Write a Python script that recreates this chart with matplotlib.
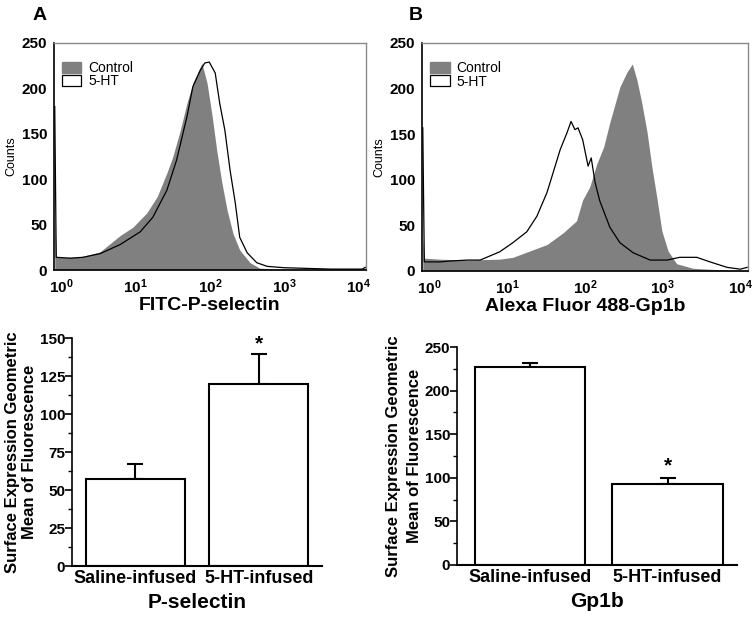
import matplotlib.pyplot as plt
import numpy as np
from matplotlib.patches import Patch

plt.rcParams['font.family'] = ['Liberation Sans', 'DejaVu Sans']
plt.rcParams['mathtext.fontset'] = 'custom'
plt.rcParams['mathtext.rm'] = 'Liberation Sans'
plt.rcParams['mathtext.bf'] = 'Liberation Sans:bold'

# histogram A (log10 of fluorescence, counts)
ctrlA_x = [-0.09, -0.07, 0.12, 0.29, 0.52, 0.79, 0.96, 1.15, 1.29, 1.42, 1.50, 1.60,
           1.69, 1.77, 1.87, 1.89, 1.96, 2.03, 2.09, 2.16, 2.23, 2.31, 2.40, 2.54,
           2.67, 2.85, 3.21, 3.62, 4.05, 4.09]
ctrlA_y = [63, 14, 14, 15, 20, 38, 47, 63, 81, 107, 125, 154,
           184, 206, 224, 228, 206, 169, 132, 96, 66, 40, 22, 8,
           2, 1.5, 1, 1, 1, 3]
htA_x = [-0.09, -0.07, 0.12, 0.29, 0.52, 0.79, 1.06, 1.23, 1.42, 1.55, 1.69, 1.77,
         1.87, 1.93, 1.99, 2.07, 2.13, 2.20, 2.27, 2.34, 2.40, 2.50, 2.63, 2.77,
         3.00, 3.21, 3.62, 4.05, 4.09]
htA_y = [180, 14, 13, 14, 18, 28, 42, 58, 88, 121, 169, 202,
         220, 228, 229, 217, 184, 154, 110, 74, 36, 19, 8, 4,
         2.5, 2, 1, 1, 3]

# histogram B
ctrlB_x = [-0.09, -0.07, 0.13, 0.49, 0.90, 1.07, 1.29, 1.51, 1.72, 1.89, 1.97, 2.06,
           2.15, 2.24, 2.32, 2.45, 2.54, 2.61, 2.67, 2.73, 2.80, 2.86, 2.93, 2.99,
           3.07, 3.18, 3.39, 3.60, 3.87, 4.09]
ctrlB_y = [36, 14, 13, 12, 13, 15, 22, 29, 42, 55, 78, 92,
           117, 136, 163, 202, 218, 227, 209, 185, 152, 115, 78, 44,
           22, 8, 3, 2, 1, 1]
htB_x = [-0.09, -0.07, 0.13, 0.27, 0.49, 0.65, 0.90, 1.07, 1.25, 1.38, 1.51, 1.59,
         1.68, 1.77, 1.82, 1.87, 1.91, 1.97, 2.04, 2.08, 2.13, 2.19, 2.32, 2.45,
         2.62, 2.84, 3.06, 3.22, 3.44, 3.61, 3.83, 4.00, 4.09]
htB_y = [157, 10, 10, 11, 12, 12, 21, 31, 43, 60, 86, 108,
         133, 152, 164, 155, 157, 144, 115, 124, 97, 77, 48, 31,
         20, 12, 12, 15, 15, 10, 4, 2, 4]

groups = ['Saline-infused', '5-HT-infused']
psel_mean = [57, 120]
psel_sem = [10, 19.5]
gp_mean = [227, 93]
gp_sem = [4.5, 7]

fig = plt.figure(figsize=(7.56, 6.18), dpi=100)

decades = [0, 1, 2, 3, 4]
dec_labels = [r'$\mathbf{10^{%d}}$' % d for d in decades]


def histo(rect, cx, cy, hx, hy, xlabel, letter, letter_xy):
    ax = fig.add_axes(rect)
    ax.fill_between(10 ** np.array(cx), cy, color='#808080', lw=0)
    ax.plot(10 ** np.array(hx), hy, color='black', lw=0.9)
    ax.set_xscale('log')
    ax.set_xlim(10 ** -0.1, 10 ** 4.1)
    ax.set_ylim(0, 250)
    ax.set_xticks([10 ** d for d in decades])
    ax.set_xticklabels(dec_labels, fontsize=11)
    ax.minorticks_off()
    ax.set_yticks([0, 50, 100, 150, 200, 250])
    ax.set_yticklabels(['0', '50', '100', '150', '200', '250'], fontsize=11, fontweight='bold')
    ax.tick_params(length=0, pad=5)
    ax.set_xlabel(xlabel, fontsize=14, fontweight='bold', labelpad=1)
    ax.set_ylabel('Counts', fontsize=9, labelpad=3)
    for s in ['top', 'right']:
        ax.spines[s].set_color('#8a8a8a')
        ax.spines[s].set_linewidth(1.0)
    for s in ['left', 'bottom']:
        ax.spines[s].set_color('black')
        ax.spines[s].set_linewidth(1.2)
    handles = [Patch(facecolor='#808080', edgecolor='#808080'),
               Patch(facecolor='white', edgecolor='black', lw=0.9)]
    ax.legend(handles, ['Control', '5-HT'], loc='upper left', frameon=False,
              bbox_to_anchor=(0.025, 0.92), borderpad=0, borderaxespad=0,
              fontsize=10, handlelength=1.4, handleheight=0.85,
              labelspacing=-0.05, handletextpad=0.5)
    ax.text(letter_xy[0], letter_xy[1], letter, transform=ax.transAxes, fontsize=14,
            fontweight='bold', ha='center', va='center')
    return ax


histo([54 / 756, 348 / 618, 312 / 756, 227 / 618], ctrlA_x, ctrlA_y, htA_x, htA_y,
      'FITC-P-selectin', 'A', (-0.045, 1.12))
histo([422 / 756, 347 / 618, 326 / 756, 228 / 618], ctrlB_x, ctrlB_y, htB_x, htB_y,
      'Alexa Fluor 488-Gp1b', 'B', (-0.018, 1.12))


def bars(rect, means, sems, ymax, major, xlim, xlabel, star_y, lsp):
    ax = fig.add_axes(rect)
    pos = np.arange(len(groups))
    ax.bar(pos, means, width=0.8, color='white', edgecolor='black', lw=1.5, zorder=2)
    ax.errorbar(pos, means, yerr=[np.zeros(len(sems)), sems], fmt='none',
                ecolor='black', elinewidth=1.5, capsize=6, capthick=1.5, zorder=1)
    ax.set_xlim(*xlim)
    ax.set_ylim(0, ymax)
    ax.set_yticks(np.arange(0, ymax + 1, major))
    ax.set_yticks(np.arange(major / 2, ymax, major), minor=True)
    ax.set_xticks(pos)
    ax.set_xticklabels(groups, fontsize=13, fontweight='bold')
    for lab in ax.get_yticklabels():
        lab.set_fontweight('bold')
        lab.set_fontsize(11)
    ax.tick_params(axis='x', length=0, pad=3)
    ax.tick_params(axis='y', which='major', length=5, width=1.2, pad=0)
    ax.tick_params(axis='y', which='minor', length=3, width=1.0)
    ax.spines['top'].set_visible(False)
    ax.spines['right'].set_visible(False)
    ax.spines['left'].set_linewidth(1.2)
    ax.spines['bottom'].set_linewidth(1.5)
    ax.set_xlabel(xlabel, fontsize=15, fontweight='bold', labelpad=4)
    ax.set_ylabel('Surface Expression Geometric\nMean of Fluorescence',
                  fontsize=12, fontweight='bold', labelpad=2, linespacing=lsp)
    ax.text(1, star_y, '*', fontsize=15, fontweight='bold', ha='center', va='center')
    return ax


bars([72 / 756, 52 / 618, 250 / 756, 228 / 618], psel_mean, psel_sem, 150, 25,
     (-0.51, 1.51), 'P-selectin', 146, 1.15)
bars([457 / 756, 53 / 618, 280 / 756, 218 / 618], gp_mean, gp_sem, 250, 50,
     (-0.53, 1.505), 'Gp1b', 114, 1.5)

fig.savefig('out.png', dpi=100)
